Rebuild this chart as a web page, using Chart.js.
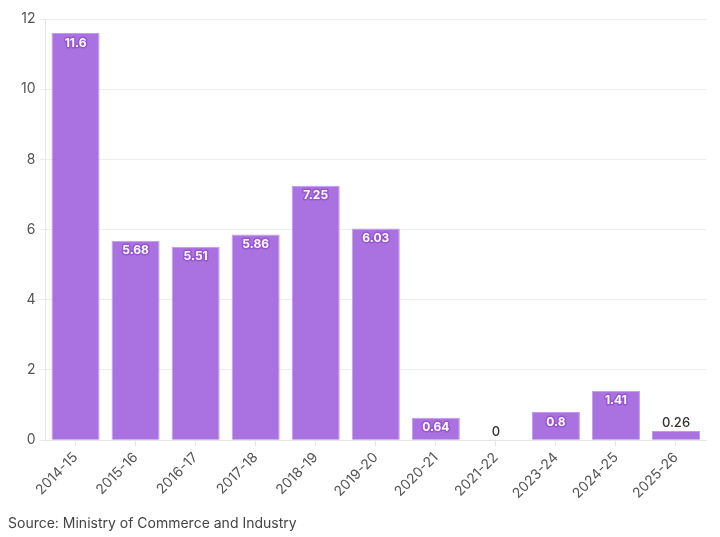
<!DOCTYPE html>
<html>
<head>
<meta charset="utf-8">
<script src="https://cdn.jsdelivr.net/npm/chart.js@4/dist/chart.umd.min.js"></script>
<style>
html,body{margin:0;padding:0;background:#fff;}
#wrap{position:relative;width:720px;height:537px;}
#src{position:absolute;left:8px;top:514px;font-family:Inter,"Noto Sans",sans-serif;font-size:14px;color:#444;}
</style>
</head>
<body>
<div id="wrap">
<canvas id="c" width="720" height="537"></canvas>
<div id="src">Source: Ministry of Commerce and Industry</div>
</div>
<script>
const categories = ["2014-15","2015-16","2016-17","2017-18","2018-19","2019-20","2020-21","2021-22","2023-24","2024-25","2025-26"];
const values = [11.6, 5.68, 5.51, 5.86, 7.25, 6.03, 0.64, 0, 0.8, 1.41, 0.26];
const yTicks = [0, 2, 4, 6, 8, 10, 12];

const labelPlugin = {
  id: 'barLabels',
  afterDatasetsDraw(chart) {
    const ctx = chart.ctx;
    const meta = chart.getDatasetMeta(0);
    ctx.save();
    ctx.textAlign = 'center';
    ctx.textBaseline = 'middle';
    meta.data.forEach((bar, i) => {
      const v = values[i];
      const h = bar.base - bar.y;
      const txt = String(v);
      if (h > 18) {
        ctx.font = 'bold 12px Inter, "Noto Sans", sans-serif';
        ctx.lineJoin = 'round';
        ctx.lineWidth = 3;
        ctx.strokeStyle = '#9a55d6';
        ctx.strokeText(txt, bar.x, bar.y + 10);
        ctx.fillStyle = '#ffffff';
        ctx.fillText(txt, bar.x, bar.y + 10);
      } else {
        ctx.font = '500 13px Inter, "Noto Sans", sans-serif';
        ctx.fillStyle = '#333';
        ctx.fillText(txt, bar.x, bar.y - 8);
      }
    });
    ctx.restore();
  }
};

new Chart(document.getElementById('c'), {
  type: 'bar',
  data: {
    labels: categories,
    datasets: [{
      data: values,
      backgroundColor: '#a972e0',
      borderColor: '#c09bec',
      borderWidth: 1,
      barPercentage: 0.8,
      categoryPercentage: 1.0
    }]
  },
  options: {
    responsive: false,
    animation: false,
    layout: { padding: { top: 19, right: 14, bottom: 32, left: 17 } },
    plugins: { legend: { display: false }, tooltip: { enabled: false } },
    scales: {
      x: {
        grid: { display: true, drawOnChartArea: false, offset: false, color: '#e6e6e6', tickLength: 6 },
        border: { color: '#e6e6e6' },
        ticks: { color: '#555', font: { family: 'Inter, "Noto Sans", sans-serif', size: 14 }, maxRotation: 45, minRotation: 45, padding: 3 }
      },
      y: {
        min: 0, max: 12,
        afterBuildTicks(axis) { axis.ticks = yTicks.map(v => ({ value: v })); },
        grid: { color: '#ececec', tickLength: 6 },
        border: { color: '#e6e6e6' },
        ticks: { color: '#555', font: { family: 'Inter, "Noto Sans", sans-serif', size: 14 }, padding: 4 }
      }
    }
  },
  plugins: [labelPlugin]
});
</script>
</body>
</html>
